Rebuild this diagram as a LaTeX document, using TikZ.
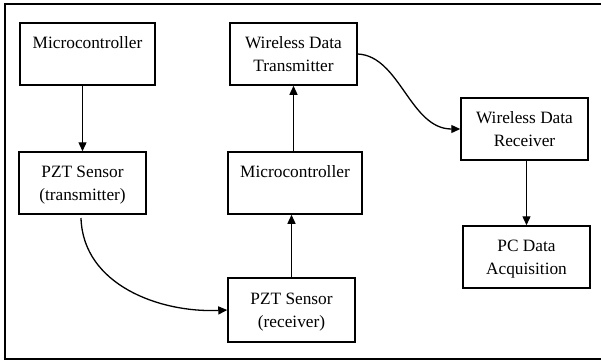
\documentclass[tikz,border=0pt]{standalone}
\usepackage{fontspec}
\setmainfont{Liberation Serif}
\usetikzlibrary{arrows.meta}
\begin{document}
\begin{tikzpicture}[x=1pt,y=-1pt,
  blk/.style={draw,line width=1.5pt,inner sep=0pt,align=center,
    font=\fontsize{17.3}{23}\selectfont,minimum height=62pt,text depth=0pt},
  conn/.style={line width=1.3pt,-{Triangle[length=9pt,width=8pt]}}]
\useasboundingbox (0,0) rectangle (601,360);
\draw[line width=2pt] (601,4) -- (4.5,4) -- (4.5,358.5) -- (601,358.5);
\node[blk,minimum width=135pt] (m1) at (87.5,54) {Microcontroller\\[1pt]\strut};
\node[blk,minimum width=127pt] (ptx) at (82.5,183) {PZT Sensor\\(transmitter)};
\node[blk,minimum width=127pt] (wdt) at (293.5,54) {Wireless Data\\Transmitter};
\node[blk,minimum width=134pt] (m2) at (295,183) {Microcontroller\\[1pt]\strut};
\node[blk,minimum width=127pt,minimum height=64pt] (prx) at (291.5,310) {PZT Sensor\\(receiver)};
\node[blk,minimum width=127pt] (wdr) at (524.5,129) {Wireless Data\\Receiver};
\node[blk,minimum width=127pt] (pc) at (526.5,257) {PC Data\\Acquisition};
\coordinate (c1) at (81,218);
\draw[conn] (m1.south -| ptx.north) -- (ptx.north);
\draw[conn] (c1) .. controls (83,285) and (160,313) .. (prx.west);
\draw[conn] (prx.north) -- (prx.north |- m2.south);
\draw[conn] (m2.north -| wdt.south) -- (wdt.south);
\draw[conn] (wdt.east) .. controls (400,56) and (410,129) .. (wdr.west);
\draw[conn] (wdr.south -| pc.north) -- (pc.north);
\end{tikzpicture}
\end{document}
